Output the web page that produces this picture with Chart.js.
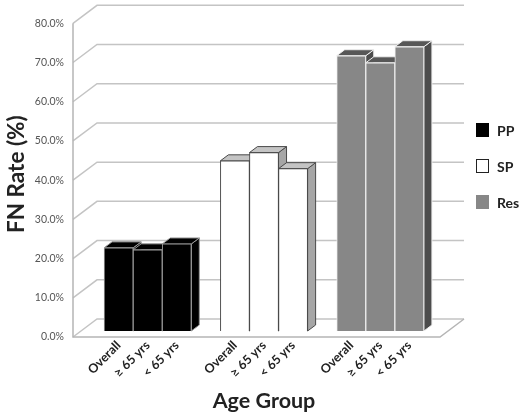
<!DOCTYPE html>
<html>
<head>
<meta charset="utf-8">
<script src="https://cdn.jsdelivr.net/npm/chart.js@4/dist/chart.umd.min.js"></script>
<style>
  body { margin: 0; background: #fff; }
  #wrap { position: relative; width: 520px; height: 415px; }
  #legend { position: absolute; left: 476px; top: 121px; font: bold 14px Lato, "Open Sans", sans-serif; color: #222; }
  .item { display: flex; align-items: center; height: 18px; margin-bottom: 18px; }
  .box { width: 13px; height: 14px; margin-right: 8px; box-sizing: border-box; }
</style>
</head>
<body>
<div id="wrap">
  <canvas id="fnChart" width="520" height="415"></canvas>
  <div id="legend"></div>
</div>
<script>
var categories = ["Overall", "≥ 65 yrs", "< 65 yrs"];
var groups = ["PP", "SP", "Res"];
var ppValues = [21.2, 20.7, 22.2];
var spValues = [43.4, 45.5, 41.4];
var resValues = [70.2, 68.4, 72.5];
var yTicks = [0, 10, 20, 30, 40, 50, 60, 70, 80];

// one empty slot before each group and at the end
var labels = [];
groups.forEach(function () {
  labels.push("");
  categories.forEach(function (c) { labels.push(c); });
});
labels.push("");

function placeGroup(groupIndex, values) {
  var out = labels.map(function () { return null; });
  values.forEach(function (v, i) { out[groupIndex * 4 + 1 + i] = v; });
  return out;
}

// depth of the 3D box: bars sit one third back from the front
var DX = 8, DY = -6;

var boxPlugin = {
  id: "box3d",
  beforeDatasetsDraw: function (chart) {
    var ctx = chart.ctx, a = chart.chartArea, y = chart.scales.y;
    var left = a.left + 6, right = a.right - 5;
    ctx.save();
    ctx.lineWidth = 1.5;
    ctx.strokeStyle = "#c4c4c4";
    yTicks.forEach(function (v) {
      var py = y.getPixelForValue(v);
      ctx.beginPath();
      ctx.moveTo(left - DX, py - DY);
      ctx.lineTo(left + 2 * DX, py + 2 * DY);
      ctx.lineTo(right + 2 * DX, py + 2 * DY);
      ctx.stroke();
    });
    // front axis line and floor edges
    ctx.strokeStyle = "#b5b5b5";
    ctx.beginPath();
    ctx.moveTo(left - DX, a.top - DY);
    ctx.lineTo(left - DX, a.bottom - DY);
    ctx.lineTo(right - DX, a.bottom - DY);
    ctx.lineTo(right + 2 * DX, a.bottom + 2 * DY);
    ctx.stroke();

    // top and side faces of the bars, left to right
    chart.data.datasets.forEach(function (ds, di) {
      var meta = chart.getDatasetMeta(di);
      meta.data.forEach(function (bar, i) {
        if (ds.data[i] === null) return;
        var l = bar.x - bar.width / 2, r = bar.x + bar.width / 2;
        var t = bar.y, b = bar.base;
        ctx.lineWidth = 1;
        ctx.strokeStyle = ds.borderColor;
        ctx.fillStyle = ds.sideColor;
        ctx.beginPath();
        ctx.moveTo(r, t);
        ctx.lineTo(r + DX, t + DY);
        ctx.lineTo(r + DX, b + DY);
        ctx.lineTo(r, b);
        ctx.closePath();
        ctx.fill();
        ctx.stroke();
        ctx.fillStyle = ds.topColor;
        ctx.beginPath();
        ctx.moveTo(l, t);
        ctx.lineTo(l + DX, t + DY);
        ctx.lineTo(r + DX, t + DY);
        ctx.lineTo(r, t);
        ctx.closePath();
        ctx.fill();
        ctx.stroke();
      });
    });
    ctx.restore();
  }
};

var ctx = document.getElementById("fnChart").getContext("2d");
var chart = new Chart(ctx, {
  type: "bar",
  data: {
    labels: labels,
    datasets: [
      { label: groups[0], data: placeGroup(0, ppValues), backgroundColor: "#000000", borderColor: "#9a9a9a", topColor: "#000000", sideColor: "#000000", borderWidth: 1 },
      { label: groups[1], data: placeGroup(1, spValues), backgroundColor: "#ffffff", borderColor: "#4a4a4a", topColor: "#c4c4c4", sideColor: "#a6a6a6", borderWidth: 1 },
      { label: groups[2], data: placeGroup(2, resValues), backgroundColor: "#878787", borderColor: "#eeeeee", topColor: "#575757", sideColor: "#4c4c4c", borderWidth: 1 },
    ],
  },
  options: {
    responsive: false,
    animation: false,
    layout: { padding: { left: 0, top: 14, right: 67, bottom: 0 } },
    datasets: { bar: { barPercentage: 1, categoryPercentage: 1 } },
    plugins: { legend: { display: false }, tooltip: { enabled: false } },
    scales: {
      x: {
        stacked: true,
        grid: { display: false, drawTicks: false },
        border: { display: false },
        ticks: {
          autoSkip: false, maxRotation: 45, minRotation: 45, padding: 7,
          color: "#222", font: { family: "Lato, 'Open Sans', sans-serif", size: 12.5, weight: "bold" },
        },
        title: {
          display: true, text: "Age Group", color: "#222",
          font: { family: "Lato, 'Open Sans', sans-serif", size: 21.5, weight: "bold" },
          padding: { top: 0, bottom: 1 },
        },
        afterFit: function (s) { s.height = 84; },
      },
      y: {
        stacked: true,
        min: 0, max: 80,
        afterBuildTicks: function (s) { s.ticks = yTicks.map(function (v) { return { value: v }; }); },
        grid: { display: false, drawTicks: false },
        border: { display: false },
        ticks: {
          padding: 11, labelOffset: 6, color: "#555",
          font: { family: "Lato, 'Open Sans', sans-serif", size: 10.5 },
          callback: function (v) { return Number(v).toFixed(1) + "%"; },
        },
        title: {
          display: true, text: "FN Rate (%)", color: "#222",
          font: { family: "Lato, 'Open Sans', sans-serif", size: 22.5, weight: "bold" },
          padding: { top: 3, bottom: 0 },
        },
        afterFit: function (s) { s.width = 75; },
      },
    },
  },
  plugins: [boxPlugin],
});

// legend built from the datasets
var legend = document.getElementById("legend");
chart.data.datasets.forEach(function (ds) {
  var item = document.createElement("div");
  item.className = "item";
  var box = document.createElement("span");
  box.className = "box";
  box.style.background = ds.backgroundColor;
  box.style.border = "1.5px solid " + (ds.backgroundColor === "#ffffff" ? "#222" : ds.backgroundColor);
  item.appendChild(box);
  item.appendChild(document.createTextNode(ds.label));
  legend.appendChild(item);
});
</script>
</body>
</html>
